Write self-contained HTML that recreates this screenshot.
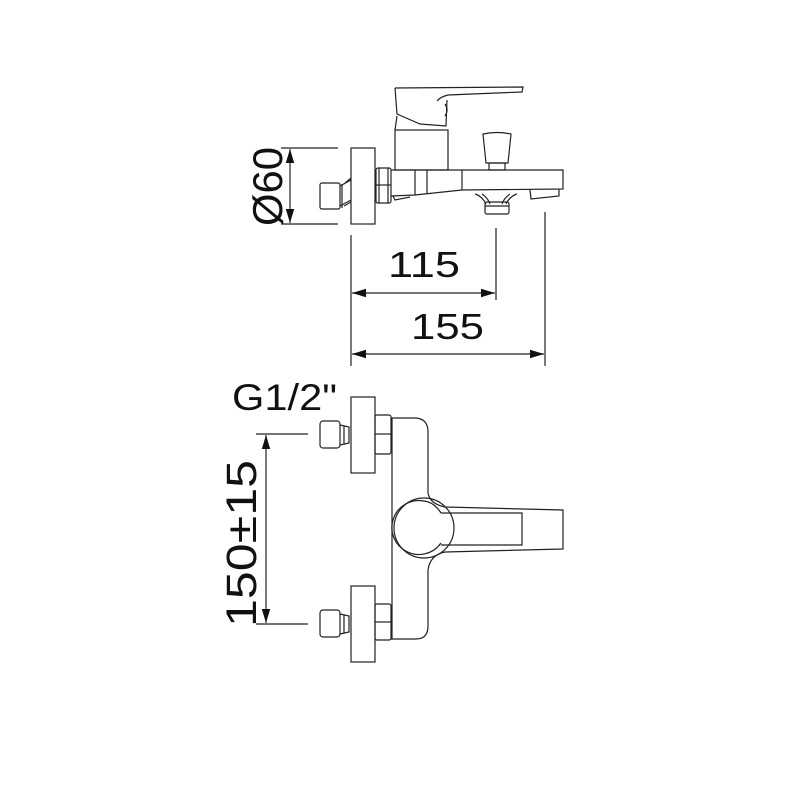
<!DOCTYPE html>
<html><head><meta charset="utf-8"><style>
html,body{margin:0;padding:0;background:#fff;width:800px;height:800px;overflow:hidden}
svg{display:block}
text{font-family:"Liberation Sans",sans-serif;fill:#111}
</style></head><body>
<svg width="800" height="800" viewBox="0 0 800 800" xmlns="http://www.w3.org/2000/svg">
<defs>
<marker id="a" viewBox="0 0 10 10" refX="10" refY="5" markerWidth="14" markerHeight="14" orient="auto-start-reverse" markerUnits="userSpaceOnUse"><path d="M0,2 L10,5 L0,8 z" fill="#111"/></marker>
</defs>
<g fill="none" stroke="#222" stroke-width="1.2">
<line x1="281" y1="148" x2="338" y2="148"/>
<line x1="281" y1="224" x2="338" y2="224"/>
<line x1="290" y1="149" x2="290" y2="223" marker-start="url(#a)" marker-end="url(#a)"/>
<rect x="351" y="148" width="24" height="76"/>
<rect x="320" y="183" width="20" height="26" rx="2"/>
<path d="M340,186 L351,180 M340,206 L351,200 M342,184 L342,208 M344,184 L351,178 M344,206 L351,202"/>
<rect x="376" y="168" width="15" height="35" rx="2"/>
<line x1="376" y1="185" x2="391" y2="185"/>
<line x1="379" y1="168" x2="379" y2="203"/>
<line x1="388" y1="168" x2="388" y2="203"/>
<path d="M391,170 L563,170 L563,189 L462,190 L415,195 L391,196"/>
<line x1="415" y1="170" x2="415" y2="195"/>
<line x1="427" y1="170" x2="427" y2="194"/>
<line x1="462" y1="170" x2="462" y2="190"/>
<path d="M393,196 L395,200 L410,197"/>
<rect x="395" y="130" width="53" height="40"/>
<path d="M395,88 L523,87 L522,92 L448,95 Q440,97 437,101"/>
<path d="M395,88 L397,114 L420,124 L446,126 L447,100"/>
<path d="M445,104 Q449,110 445,116"/>
<path d="M397,116 L395,130"/>
<path d="M483,134 Q497,131 511,134 L508,163 L486,163 Z"/>
<rect x="489" y="163" width="16" height="7"/>
<path d="M475,194 Q482,196 486,204 M517,194 Q510,196 506,204 M482,194 Q488,198 490,204 M510,194 Q504,198 502,204"/>
<rect x="485" y="202" width="24" height="12" rx="2"/>
<line x1="485" y1="206" x2="509" y2="206"/>
<path d="M530,190 L531,199 L559,196 L559,189"/>
<line x1="351" y1="235" x2="351" y2="366"/>
<line x1="496" y1="228" x2="496" y2="300"/>
<line x1="545" y1="212" x2="545" y2="366"/>
<line x1="352" y1="293" x2="495" y2="293" marker-start="url(#a)" marker-end="url(#a)"/>
<line x1="352" y1="354" x2="544" y2="354" marker-start="url(#a)" marker-end="url(#a)"/>

<line x1="256" y1="434" x2="308" y2="434"/>
<line x1="256" y1="624" x2="308" y2="624"/>
<line x1="266" y1="435" x2="266" y2="623" marker-start="url(#a)" marker-end="url(#a)"/>
<rect x="351" y="397" width="24" height="76"/>
<rect x="320" y="421" width="20" height="27" rx="3"/>
<path d="M340,425 L349,427 L349,443 L340,445 M344,426 L344,444"/>
<rect x="375" y="415" width="16" height="39" rx="2"/>
<line x1="375" y1="434" x2="391" y2="434"/>
<rect x="351" y="586" width="24" height="76"/>
<rect x="320" y="610" width="20" height="27" rx="3"/>
<path d="M340,614 L349,616 L349,632 L340,634 M344,615 L344,633"/>
<rect x="375" y="604" width="16" height="36" rx="2"/>
<line x1="375" y1="622" x2="391" y2="622"/>
<path d="M392,418 L392,639"/>
<path d="M391,418 L416,418 Q428,419 428,432 L428,493 Q430,504 445,507 L563,510 L563,549 L445,552 Q430,555 428,570 L428,626 Q428,639 416,639 L391,639"/>
<circle cx="424" cy="528" r="30"/>
<path d="M441,513 Q434,502 424,501 A27,27 0 1 0 441,543"/>
<path d="M441,513 L522,513 L522,545 L441,545"/>
</g>
<text x="388" y="277" font-size="36" textLength="72" lengthAdjust="spacingAndGlyphs">115</text>
<text x="411" y="339" font-size="36" textLength="73" lengthAdjust="spacingAndGlyphs">155</text>
<text x="232" y="410" font-size="37" textLength="105" lengthAdjust="spacingAndGlyphs">G1/2"</text>
<text transform="translate(282,226) rotate(-90)" font-size="42" textLength="79" lengthAdjust="spacingAndGlyphs">Ø60</text>
<text transform="translate(256,627) rotate(-90)" font-size="43" textLength="167" lengthAdjust="spacingAndGlyphs">150±15</text>
</svg>
</body></html>
